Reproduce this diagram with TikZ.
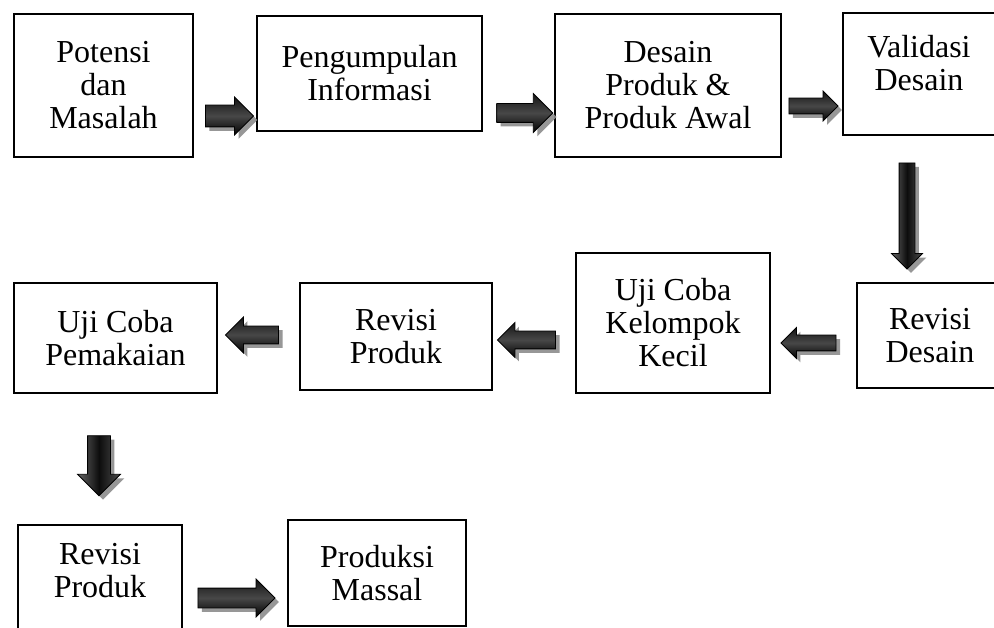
\documentclass[tikz,border=0pt]{standalone}
\usepackage{fontspec}
\setmainfont{Liberation Serif}
\usetikzlibrary{shapes.arrows,shadows}

\begin{document}
\begin{tikzpicture}[x = 1pt, y = -1pt,
                    box/.style = {draw,
                                  line width = 1.2pt,
                                  align = center,
                                  inner sep = 0pt,
                                  font = \fontsize{32}{33}\selectfont},
                    txt/.style = {align = center,
                                  inner sep = 0pt,
                                  font = \fontsize{32}{33}\selectfont},
                    blockarrow/.style = {single arrow,
                                         draw = black,
                                         line width = 0.8pt,
                                         inner xsep = 0pt,
                                         drop shadow = {shadow xshift = 4pt,
                                                        shadow yshift = -4pt,
                                                        fill = black!45,
                                                        opacity = 0.9}},
                    arrowR/.style = {blockarrow,
                                     top color = black!92,
                                     bottom color = black,
                                     middle color = black!72},
                    arrowL/.style = {arrowR, rotate = 180},
                    arrowD/.style = {blockarrow, rotate = -90,
                                     left color = black!60,
                                     right color = black!70,
                                     middle color = black!95}]

\useasboundingbox (0,0) rectangle (994,628);

\node[box, minimum width = 179pt, minimum height = 143pt] (potensi) at (103.5,85.5) {Potensi\\dan\\Masalah};
\node[box, minimum width = 225pt, minimum height = 115pt] (info) at (369.5,73.5) {Pengumpulan\\Informasi};
\node[box, minimum width = 226pt, minimum height = 143pt] (desain) at (668,85.5) {Desain\\Produk \&\\Produk Awal};
\node[box, minimum width = 152pt, minimum height = 122pt] (validasi) at (919,74) {};
\node[txt] (validasitxt) at (919,63) {Validasi\\Desain};
\node[box, minimum width = 146pt, minimum height = 105pt] (revdesain) at (930,335.5) {Revisi\\Desain};
\node[box, minimum width = 194pt, minimum height = 140pt] (ujikecil) at (673,323) {Uji Coba\\Kelompok\\Kecil};
\node[box, minimum width = 192pt, minimum height = 107pt] (revproduk) at (396,336.5) {Revisi\\Produk};
\node[box, minimum width = 203pt, minimum height = 110pt] (ujipakai) at (115.5,338) {Uji Coba\\Pemakaian};
\node[box, minimum width = 164pt, minimum height = 115pt] (revakhir) at (100,582.5) {};
\node[txt] (revakhirtxt) at (100,571) {Revisi\\Produk};
\node[box, minimum width = 178pt, minimum height = 106pt] (massal) at (377,573) {Produksi\\Massal};

\node[arrowR, minimum height = 48pt, inner ysep = 10.5pt, single arrow head extend = 8pt] (a1) at (224,116) {};
\node[arrowR, minimum height = 56pt, inner ysep = 9pt, single arrow head extend = 10pt] (a2) at (520,113) {};
\node[arrowR, minimum height = 49pt, inner ysep = 7.5pt, single arrow head extend = 7pt] (a3) at (809.5,106) {};
\node[arrowD, minimum height = 106pt, inner ysep = 7.5pt, single arrow head extend = 7.5pt] (a4) at (907,212) {};
\node[arrowL, minimum height = 55pt, inner ysep = 7.5pt, single arrow head extend = 7.5pt] (a5) at (812.5,343) {};
\node[arrowL, minimum height = 58pt, inner ysep = 8.5pt, single arrow head extend = 8.5pt] (a6) at (531,340) {};
\node[arrowL, minimum height = 53pt, inner ysep = 8.5pt, single arrow head extend = 9pt] (a7) at (256.5,335) {};
\node[arrowD, minimum height = 60pt, inner ysep = 11pt, single arrow head extend = 10pt] (a8) at (99,460) {};
\node[arrowR, minimum height = 77pt, inner ysep = 9.5pt, single arrow head extend = 9pt] (a9) at (231.5,598) {};

\end{tikzpicture}
\end{document}
